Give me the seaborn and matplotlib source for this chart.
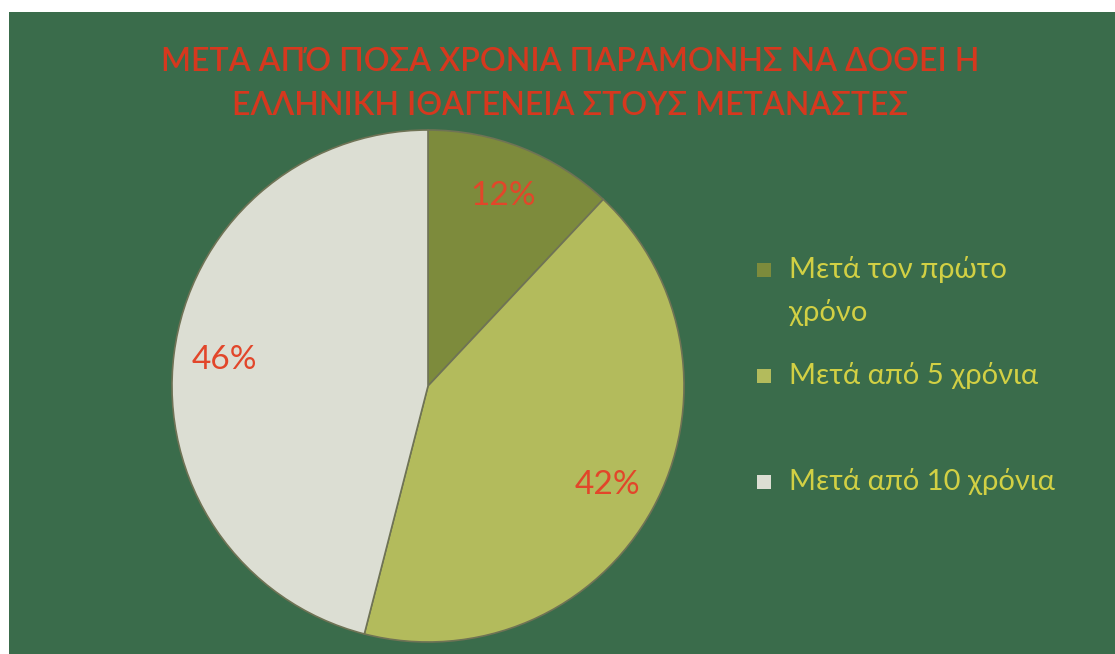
import seaborn as sns
import matplotlib.pyplot as plt
from matplotlib.patches import Rectangle

# Data
categories = ['Μετά τον πρώτο\nχρόνο', 'Μετά από 5 χρόνια', 'Μετά από 10 χρόνια']
shares = [12, 42, 46]
slice_colors = ['#7d8b3c', '#b3bb5c', '#dcded3']

title = 'ΜΕΤΑ ΑΠΌ ΠΟΣΑ ΧΡΟΝΙΑ ΠΑΡΑΜΟΝΗΣ ΝΑ ΔΟΘΕΙ Η\nΕΛΛΗΝΙΚΗ ΙΘΑΓΕΝΕΙΑ ΣΤΟΥΣ ΜΕΤΑΝΑΣΤΕΣ'

sns.set_theme(style="white")
plt.rcParams['font.family'] = ['Lato', 'Open Sans', 'DejaVu Sans']

W, H = 1115, 654
fig = plt.figure(figsize=(W / 100, H / 100), dpi=100, facecolor='white')

# green background panel
bg = fig.add_axes([9 / W, 0, 1 - 9 / W, 1 - 12 / H])
bg.set_facecolor('#3a6c4b')
bg.set_xticks([])
bg.set_yticks([])
for s in bg.spines.values():
    s.set_visible(False)

# pie axes
cx, cy, r = 428, 386, 256
ax = fig.add_axes([(cx - r) / W, (H - cy - r) / H, 2 * r / W, 2 * r / H])
ax.set_facecolor('none')
wedges, texts, autotexts = ax.pie(
    shares, colors=slice_colors, startangle=90, counterclock=False,
    autopct='%d%%', pctdistance=0.8, radius=1,
    wedgeprops=dict(edgecolor='#6f7355', linewidth=1.2),
    textprops=dict(color='#e2462a', fontsize=24))
ax.set_xlim(-1, 1)
ax.set_ylim(-1, 1)
ax.set_aspect('equal')
ax.axis('off')

fig.text(570 / W, 1 - 84 / H, title, ha='center', va='center',
         color='#d6381e', fontsize=23, fontweight='semibold',
         linespacing=1.6)

# legend drawn by hand: one square + label per slice, evenly spaced
for i, (lab, col) in enumerate(zip(categories, slice_colors)):
    y = 270 + i * 106
    fig.add_artist(Rectangle((757 / W, 1 - (y + 7) / H), 14 / W, 14 / H,
                             facecolor=col, edgecolor='none',
                             transform=fig.transFigure))
    fig.text(789 / W, 1 - (y - 14) / H, lab, ha='left', va='top',
             color='#d2d044', fontsize=21, linespacing=1.75)

fig.savefig('out.png', dpi=100, facecolor='white')
